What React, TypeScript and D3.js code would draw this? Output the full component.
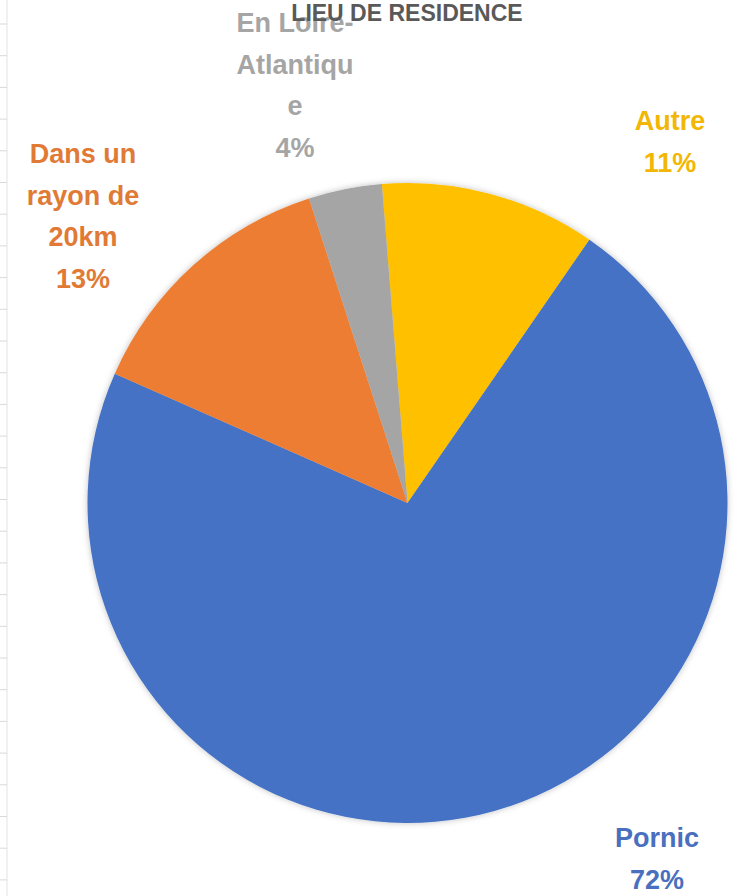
import React from "react";
import * as d3 from "d3";

const categories = ["Autre", "Pornic", "Dans un rayon de 20km", "En Loire-Atlantique"];
const values = [10.9, 72.0, 13.4, 3.7];
const percentLabels = ["11%", "72%", "13%", "4%"];
const labelLines = [["Autre"], ["Pornic"], ["Dans un", "rayon de", "20km"], ["En Loire-", "Atlantiqu", "e"]];
const colors = ["#FFC000", "#4472C4", "#ED7D31", "#A5A5A5"];
const labelColors = ["#F2B705", "#4A6FBF", "#E07A35", "#A5A5A5"];
const title = "LIEU DE RESIDENCE";

const W = 744;
const H = 896;
const cx = 407.5;
const cy = 503;
const R = 320;
const startDeg = -4.6;
// label anchor positions (center x, first baseline y)
const labelPos = [
  [670, 130],
  [657, 847],
  [83, 163],
  [295, 32],
];
const lineH = 41.5;

export default function App() {
  const pie = d3
    .pie<number>()
    .sort(null)
    .startAngle((startDeg * Math.PI) / 180)
    .endAngle((startDeg * Math.PI) / 180 + 2 * Math.PI);
  const arcs = pie(values);
  const arc = d3.arc<d3.PieArcDatum<number>>().innerRadius(0).outerRadius(R);
  const gridYs = d3.range(24, H, 31.7);

  return (
    <div style={{ position: "absolute", left: 0, top: 0 }}>
      <svg width={W} height={H} style={{ display: "block", background: "#fff" }}>
        <defs>
          <filter id="sh" x="-10%" y="-10%" width="120%" height="120%">
            <feDropShadow dx="0" dy="0" stdDeviation="3" floodColor="#000" floodOpacity="0.25" />
          </filter>
        </defs>
        <line x1={7} x2={7} y1={0} y2={H} stroke="#e3e3e3" strokeWidth={1} />
        {gridYs.map((y, i) => (
          <line key={i} x1={0} x2={7} y1={y} y2={y} stroke="#d9d9d9" strokeWidth={1} />
        ))}
        <g transform={`translate(${cx},${cy})`} filter="url(#sh)">
          {arcs.map((a, i) => (
            <path key={categories[i]} d={arc(a) || ""} fill={colors[i]} />
          ))}
        </g>
        {arcs.map((a, i) => {
          const lines = [...labelLines[i], percentLabels[i]];
          const [lx, ly] = labelPos[i];
          return (
            <text
              key={"l" + i}
              x={lx}
              y={ly}
              textAnchor="middle"
              fontFamily="'Liberation Sans', Arial, sans-serif"
              fontWeight="bold"
              fontSize={27}
              fill={labelColors[i]}
            >
              {lines.map((t, j) => (
                <tspan key={j} x={lx} y={ly + j * lineH}>
                  {t}
                </tspan>
              ))}
            </text>
          );
        })}
        <text
          x={407}
          y={21}
          textAnchor="middle"
          fontFamily="'Liberation Sans', Arial, sans-serif"
          fontWeight="bold"
          fontSize={23}
          fill="#595959"
        >
          {title}
        </text>
      </svg>
    </div>
  );
}
